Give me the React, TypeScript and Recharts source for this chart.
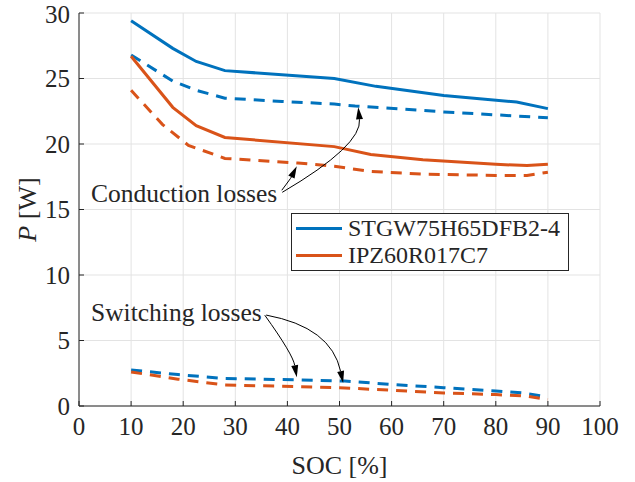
import { LineChart, Line, XAxis, YAxis, CartesianGrid, Legend, ReferenceDot } from 'recharts';

// SOC points and loss values (W)
const igbtTotalSoc = [10, 18, 22.5, 28, 49, 57, 70, 84, 90];
const igbtTotalP = [29.4, 27.3, 26.3, 25.6, 25.0, 24.4, 23.7, 23.2, 22.7];

const igbtCondSoc = [10, 18, 22.5, 28, 39, 49, 53, 70, 90];
const igbtCondP = [26.8, 24.8, 24.1, 23.5, 23.25, 23.05, 22.9, 22.45, 22.0];

const mosTotalSoc = [10, 18, 22.5, 28, 49, 56, 66, 80, 86, 90];
const mosTotalP = [26.7, 22.8, 21.4, 20.5, 19.8, 19.2, 18.8, 18.45, 18.35, 18.45];

const mosCondSoc = [10, 16, 21, 28, 42, 49, 56, 66, 80, 86, 90];
const mosCondP = [24.1, 21.5, 19.9, 18.9, 18.55, 18.3, 17.9, 17.7, 17.6, 17.6, 17.85];

const igbtSwSoc = [10, 19, 28, 42, 51, 60, 70, 80, 85, 90];
const igbtSwP = [2.75, 2.4, 2.1, 2.0, 1.9, 1.65, 1.4, 1.15, 1.0, 0.7];

const mosSwSoc = [10, 19, 28, 42, 50, 60, 70, 80, 86, 90];
const mosSwP = [2.6, 2.05, 1.6, 1.48, 1.4, 1.2, 1.0, 0.87, 0.75, 0.5];

const xTicks = [0, 10, 20, 30, 40, 50, 60, 70, 80, 90, 100];
const yTicks = [0, 5, 10, 15, 20, 25, 30];

const legendNames = ['STGW75H65DFB2-4', 'IPZ60R017C7'];

const BLUE = '#0072BD';
const ORANGE = '#D95319';
const AXIS = '#262626';
const FONT = 'Liberation Serif';

const zip = (xs: number[], ys: number[]) => xs.map((x, i) => ({ x, y: ys[i] }));

// arrow drawn from an offset start point to the dot (the tip)
function arrowShape(sdx: number, sdy: number, cdx: number, cdy: number) {
  return (props: any) => {
    const { cx, cy } = props;
    const sx = cx + sdx, sy = cy + sdy;
    const qx = cx + cdx, qy = cy + cdy;
    const ang = Math.atan2(cy - qy, cx - qx);
    const len = 12, half = 3.5;
    const bx = cx - len * Math.cos(ang), by = cy - len * Math.sin(ang);
    const p1 = `${bx + half * Math.sin(ang)},${by - half * Math.cos(ang)}`;
    const p2 = `${bx - half * Math.sin(ang)},${by + half * Math.cos(ang)}`;
    return (
      <g>
        <path d={`M${sx},${sy} Q${qx},${qy} ${bx},${by}`} fill="none" stroke="#000" strokeWidth={1} />
        <polygon points={`${cx},${cy} ${p1} ${p2}`} fill="#000" />
      </g>
    );
  };
}

const textShape = (label: string) => (props: any) => (
  <text x={props.cx} y={props.cy} dy="0.35em" style={{ fontFamily: FONT, fontSize: 25.5 }} fill={AXIS}>
    {label}
  </text>
);

function LegendBox() {
  const colors = [BLUE, ORANGE];
  return (
    <div style={{ border: `1px solid ${AXIS}`, background: '#fff', padding: '1px 8px 1px 4px', fontFamily: FONT, fontSize: 24, lineHeight: '27px', color: AXIS }}>
      {legendNames.map((name, i) => (
        <div key={name} style={{ display: 'flex', alignItems: 'center', height: 27 }}>
          <div style={{ width: 46, height: 3, background: colors[i], marginRight: 6 }} />
          <span>{name}</span>
        </div>
      ))}
    </div>
  );
}

function YLabel(props: any) {
  const { viewBox } = props;
  const x = viewBox.x + 27;
  const y = viewBox.y + viewBox.height / 2;
  return (
    <text x={x} y={y} transform={`rotate(-90 ${x} ${y})`} textAnchor="middle" dy="0.35em" style={{ fontFamily: FONT, fontSize: 26 }} fill={AXIS}>
      <tspan fontStyle="italic">P</tspan> [W]
    </text>
  );
}

export default function App() {
  const tick = { fontFamily: FONT, fontSize: 25, fill: AXIS };
  return (
    <div style={{ position: 'absolute', left: 0, top: 0, width: 635, height: 482, background: '#fff', fontFamily: FONT }}>
      <LineChart width={635} height={482} margin={{ top: 13, right: 35, bottom: 0, left: 0 }} style={{ fontFamily: FONT }}>
        <CartesianGrid stroke="#e3e3e3" strokeWidth={1} />
        <XAxis
          type="number"
          dataKey="x"
          domain={[0, 100]}
          ticks={xTicks}
          height={76}
          tick={tick}
          tickSize={-5}
          tickMargin={16}
          tickLine={{ stroke: AXIS }}
          axisLine={{ stroke: AXIS }}
          label={{ value: 'SOC [%]', position: 'insideBottom', offset: 8, style: { fontFamily: FONT, fontSize: 26, fill: AXIS } }}
        />
        <XAxis xAxisId="top" orientation="top" type="number" domain={[0, 100]} ticks={xTicks} height={0} tick={false} tickSize={-5} tickLine={{ stroke: AXIS }} axisLine={{ stroke: AXIS }} />
        <YAxis
          type="number"
          domain={[0, 30]}
          ticks={yTicks}
          width={79}
          tick={tick}
          tickSize={-5}
          tickMargin={14}
          tickLine={{ stroke: AXIS }}
          axisLine={{ stroke: AXIS }}
          label={<YLabel />}
        />
        <YAxis yAxisId="right" orientation="right" domain={[0, 30]} ticks={yTicks} width={0} tick={false} tickSize={-5} tickLine={{ stroke: AXIS }} axisLine={{ stroke: AXIS }} />
        <Legend layout="vertical" align="center" verticalAlign="middle" content={<LegendBox />} wrapperStyle={{ left: 291, top: 213, width: 'auto' }} />

        <Line data={zip(igbtTotalSoc, igbtTotalP)} dataKey="y" stroke={BLUE} strokeWidth={3} dot={false} isAnimationActive={false} />
        <Line data={zip(igbtCondSoc, igbtCondP)} dataKey="y" stroke={BLUE} strokeWidth={3} strokeDasharray="11 8" dot={false} legendType="none" isAnimationActive={false} />
        <Line data={zip(igbtSwSoc, igbtSwP)} dataKey="y" stroke={BLUE} strokeWidth={3} strokeDasharray="11 8" dot={false} legendType="none" isAnimationActive={false} />
        <Line data={zip(mosTotalSoc, mosTotalP)} dataKey="y" stroke={ORANGE} strokeWidth={3} dot={false} isAnimationActive={false} />
        <Line data={zip(mosCondSoc, mosCondP)} dataKey="y" stroke={ORANGE} strokeWidth={3} strokeDasharray="11 8" dot={false} legendType="none" isAnimationActive={false} />
        <Line data={zip(mosSwSoc, mosSwP)} dataKey="y" stroke={ORANGE} strokeWidth={3} strokeDasharray="11 8" dot={false} legendType="none" isAnimationActive={false} />

        {/* annotations */}
        <ReferenceDot x={2.3} y={16.26} shape={textShape('Conduction losses')} />
        <ReferenceDot x={2.3} y={7.18} shape={textShape('Switching losses')} />
        <ReferenceDot x={41.8} y={18.3} shape={arrowShape(-15, 24, -6, 12)} />
        <ReferenceDot x={53.6} y={22.8} shape={arrowShape(-76, 85, 4, 38)} />
        <ReferenceDot x={41.8} y={2.2} shape={arrowShape(-32, -62, -4, -23)} />
        <ReferenceDot x={50.7} y={1.75} shape={arrowShape(-77, -68, -12, -56)} />
      </LineChart>
    </div>
  );
}
